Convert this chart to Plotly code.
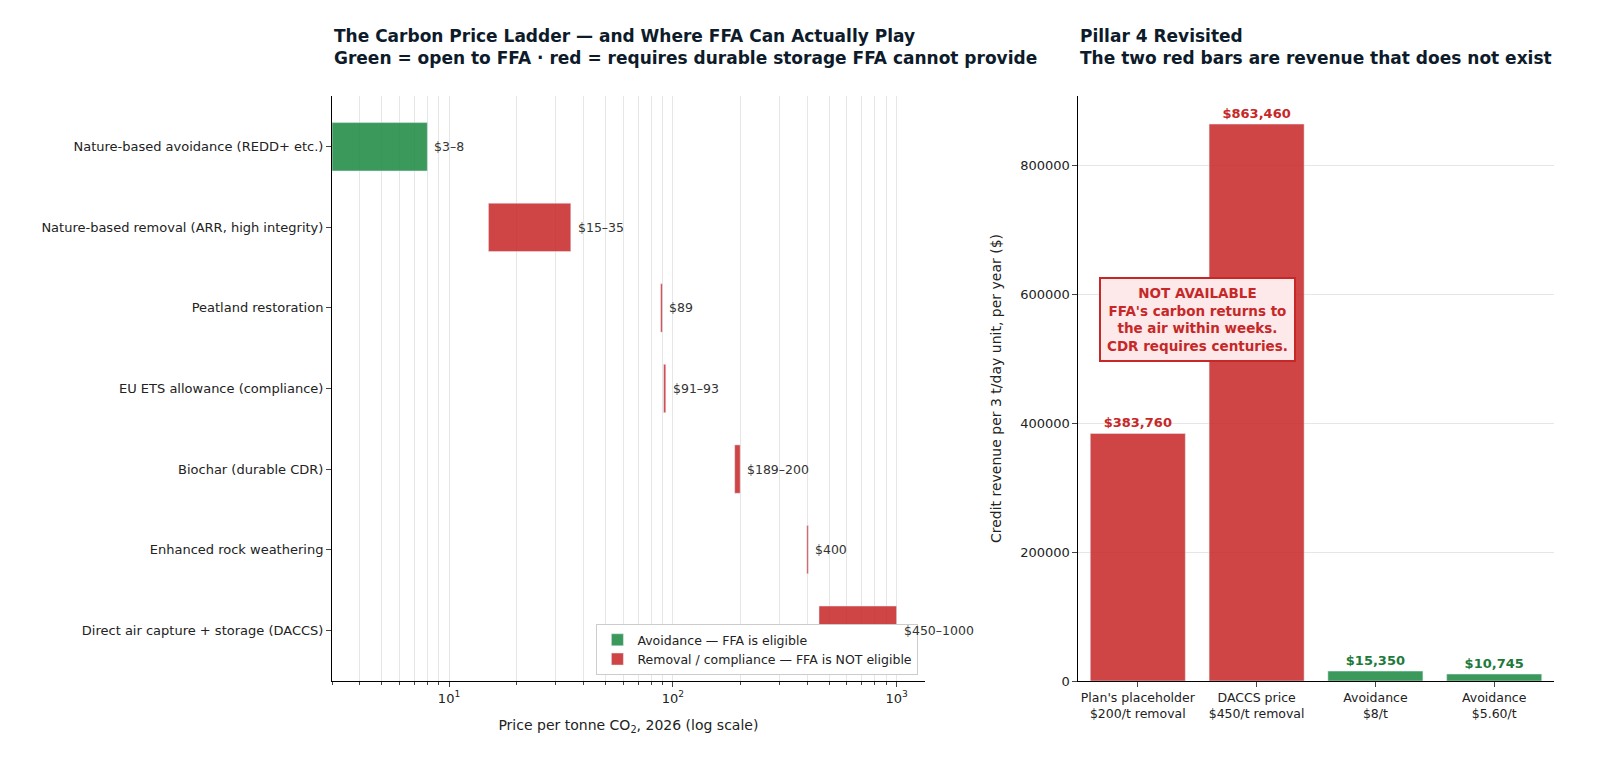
import math
import plotly.graph_objects as go

cats = ["Nature-based avoidance (REDD+ etc.)", "Nature-based removal (ARR, high integrity)",
        "Peatland restoration", "EU ETS allowance (compliance)", "Biochar (durable CDR)",
        "Enhanced rock weathering", "Direct air capture + storage (DACCS)"]
lo = [3, 15, 88.2, 91, 189, 397, 450]
hi = [8, 35, 89.8, 93, 200, 403, 1000]
labels = ["$3–8", "$15–35", "$89", "$91–93", "$189–200", "$400", "$450–1000"]
eligible = [True, False, False, False, False, False, False]

rcats = ["Plan's placeholder<br>$200/t removal", "DACCS price<br>$450/t removal", "Avoidance<br>$8/t", "Avoidance<br>$5.60/t"]
rvals = [383760, 863460, 15350, 10745]
rlabels = ["$383,760", "$863,460", "$15,350", "$10,745"]
rgreen = [False, False, True, True]

GREEN = "rgba(30,138,68,0.87)"
RED = "rgba(200,40,40,0.87)"
GT = "#1e7a3c"; RT = "#c62828"
fig = go.Figure()
for flag, name, col in [(True, "Avoidance — FFA is eligible", GREEN), (False, "Removal / compliance — FFA is NOT eligible", RED)]:
    idx = [i for i in range(len(cats)) if eligible[i] == flag]
    fig.add_bar(y=[cats[i] for i in idx], x=[hi[i] - lo[i] for i in idx], base=[lo[i] for i in idx],
                orientation="h", marker_color=col, width=0.6, name=name, xaxis="x", yaxis="y")
for i in range(len(cats)):
    fig.add_annotation(x=math.log10(hi[i]), y=cats[i], text=labels[i], showarrow=False,
                       xanchor="left", xshift=5, font=dict(size=12.5, color="#333"), xref="x", yref="y")

fig.add_bar(x=rcats, y=rvals, marker_color=[GREEN if g else RED for g in rgreen], width=0.8,
            text=["<b>%s</b>" % t for t in rlabels], textposition="outside", cliponaxis=False,
            textfont=dict(size=13, color=[GT if g else RT for g in rgreen], family="DejaVu Sans"),
            xaxis="x2", yaxis="y2", showlegend=False)

minor = [v * m for v in [1, 10, 100] for m in range(2, 10) if 2.9 < v * m < 1340]
fig.update_layout(
    width=1600, height=764, plot_bgcolor="white", paper_bgcolor="white",
    font=dict(family="DejaVu Sans", size=13, color="#222"),
    margin=dict(l=0, r=0, t=88, b=91, autoexpand=False), barmode="overlay",
    xaxis=dict(domain=[0.2025, 0.573], type="log", range=[0.477, 3.126], automargin=False,
               tickvals=[10, 100, 1000], ticktext=["10<sup>1</sup>", "10<sup>2</sup>", "10<sup>3</sup>"],
               showgrid=True, gridcolor="#e6e6e6", ticks="outside", showline=True, linecolor="black",
               minor=dict(tickvals=minor, showgrid=True, gridcolor="#e6e6e6", ticks="outside", ticklen=3),
               title=dict(text="Price per tonne CO<sub>2</sub>, 2026 (log scale)", font=dict(size=14)), anchor="y"),
    yaxis=dict(domain=[0, 1], categoryorder="array", categoryarray=cats[::-1], showline=True, automargin=False,
               linecolor="black", ticks="outside", anchor="x", range=[-0.63, 6.63]),
    xaxis2=dict(domain=[0.669, 0.966], anchor="y2", showline=True, linecolor="black", ticks="outside",
                tickfont=dict(size=12.5), automargin=False),
    yaxis2=dict(domain=[0, 1], anchor="x2", range=[0, 907000], tickformat="d", showgrid=True, automargin=False,
                gridcolor="#e6e6e6", showline=True, linecolor="black", ticks="outside",
                tickvals=[0, 200000, 400000, 600000, 800000],
                title=dict(text="Credit revenue per 3 t/day unit, per year ($)", font=dict(size=14))),
    legend=dict(x=0.569, xanchor="right", y=0.01, yanchor="bottom", bgcolor="white",
                bordercolor="#ccc", borderwidth=1, font=dict(size=12.5)),
    showlegend=True,
)
fig.add_annotation(xref="paper", yref="paper", x=0.2025, y=1.045, xanchor="left", yanchor="bottom",
                   text="<b>The Carbon Price Ladder — and Where FFA Can Actually Play<br>Green = open to FFA · red = requires durable storage FFA cannot provide</b>",
                   showarrow=False, align="left", font=dict(size=17, color="#0d1b2a"))
fig.add_annotation(xref="paper", yref="paper", x=0.669, y=1.045, xanchor="left", yanchor="bottom",
                   text="<b>Pillar 4 Revisited<br>The two red bars are revenue that does not exist</b>",
                   showarrow=False, align="left", font=dict(size=17, color="#0d1b2a"))
fig.add_annotation(xref="x2", yref="y2", x=0.5, y=560000, showarrow=False,
                   text="<b>NOT AVAILABLE<br>FFA's carbon returns to<br>the air within weeks.<br>CDR requires centuries.</b>",
                   font=dict(size=13.5, color=RT), bgcolor="#fde8ea", bordercolor=RT, borderwidth=2, borderpad=6)
fig.write_html("out.html")
